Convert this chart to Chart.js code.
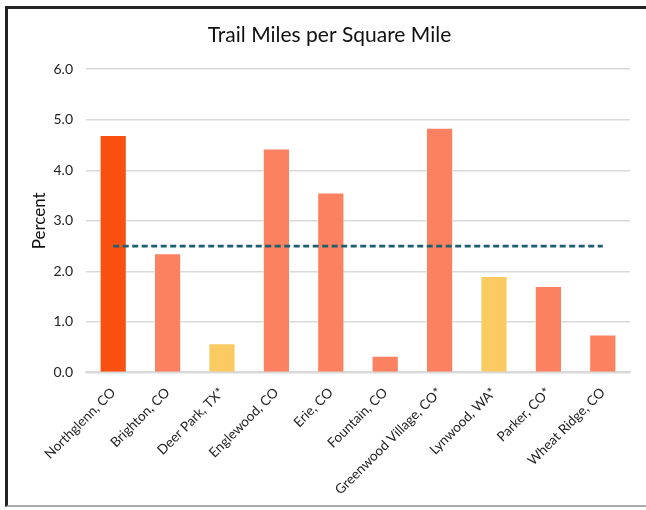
<!DOCTYPE html>
<html>
<head>
<meta charset="utf-8">
<script src="https://cdn.jsdelivr.net/npm/chart.js@4"></script>
<style>
  html, body { margin: 0; padding: 0; background: #fff; }
  #wrap { position: absolute; left: 0; top: 0; width: 646px; height: 510px; }
  #frame { position: absolute; left: 5px; top: 6px; width: 641px; height: 501px;
           border-left: 3px solid #222; border-top: 3px solid #222; border-bottom: 2px solid #aaa;
           box-sizing: border-box; pointer-events: none; }
</style>
</head>
<body>
<div id="wrap"><canvas id="c"></canvas></div>
<div id="frame"></div>
<script>
const categories = ["Northglenn, CO", "Brighton, CO", "Deer Park, TX*", "Englewood, CO", "Erie, CO",
  "Fountain, CO", "Greenwood Village, CO*", "Lynwood, WA*", "Parker, CO*", "Wheat Ridge, CO"];
const trailMiles = [4.70, 2.36, 0.58, 4.43, 3.56, 0.33, 4.84, 1.91, 1.71, 0.75];
const averageLine = [2.5, 2.5, 2.5, 2.5, 2.5, 2.5, 2.5, 2.5, 2.5, 2.5];
const barColors = ["#F95012", "#FB8160", "#FCCA62", "#FB8160", "#FB8160",
  "#FB8160", "#FB8160", "#FCCA62", "#FB8160", "#FB8160"];
const yTicks = [0, 1, 2, 3, 4, 5, 6];

const FONT = "Lato";
new Chart(document.getElementById('c'), {
  data: {
    labels: categories,
    datasets: [
      {
        type: 'line',
        data: averageLine,
        borderColor: '#1C5F70',
        borderWidth: 2.8,
        borderDash: [6, 3.5],
        pointRadius: 0,
        fill: false,
        order: 0
      },
      {
        type: 'bar',
        data: trailMiles,
        backgroundColor: barColors,
        borderColor: 'rgba(255,255,255,0.6)',
        borderWidth: 1,
        barPercentage: 0.5,
        categoryPercentage: 1.0,
        order: 1
      }
    ]
  },
  options: {
    responsive: true,
    maintainAspectRatio: false,
    animation: false,
    layout: { padding: { left: 29, right: 16, top: 23, bottom: 0 } },
    plugins: {
      legend: { display: false },
      tooltip: { enabled: false },
      title: {
        display: true,
        text: 'Trail Miles per Square Mile',
        color: '#111',
        font: { family: FONT, size: 21, weight: 'normal' },
        padding: { top: 0, bottom: 21 }
      }
    },
    scales: {
      x: {
        afterFit: (s) => { s.paddingLeft = 0; },
        grid: { display: false, drawTicks: false },
        border: { color: '#d9d9d9', width: 2 },
        ticks: {
          color: '#222',
          font: { family: FONT, size: 13.5 },
          maxRotation: 45,
          minRotation: 45,
          padding: 12,
          autoSkip: false
        }
      },
      y: {
        min: 0,
        max: 6,
        afterBuildTicks: (axis) => { axis.ticks = yTicks.map(v => ({ value: v })); },
        afterFit: (s) => { s.width = 57; },
        grid: { color: '#d9d9d9', lineWidth: 1.5, drawTicks: false },
        border: { display: false },
        ticks: {
          color: '#222',
          font: { family: FONT, size: 14 },
          padding: 13,
          callback: (v) => Number(v).toFixed(1)
        },
        title: {
          display: true,
          text: 'Percent',
          color: '#111',
          font: { family: FONT, size: 17 },
          padding: { top: 0, bottom: 4 }
        }
      }
    }
  }
});
</script>
</body>
</html>
